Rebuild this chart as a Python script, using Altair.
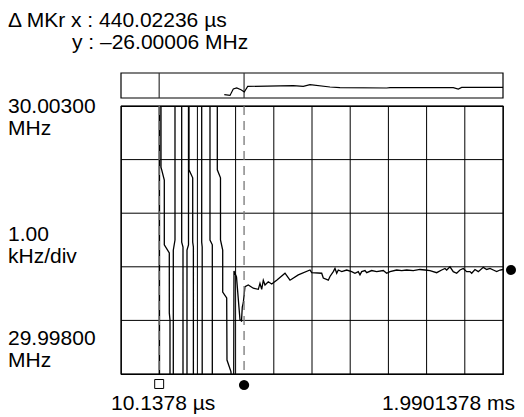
import altair as alt
import pandas as pd

FONT = "Liberation Sans"

# ---- axis spans -------------------------------------------------------
T_START = 10.1378      # µs
T_STOP = 1990.1378     # µs
F_BOTTOM = 29.998      # MHz
F_TOP = 30.003         # MHz

x_grid = [10.1378, 208.1378, 406.1378, 604.1378, 802.1378, 1000.1378,
          1198.1378, 1396.1378, 1594.1378, 1792.1378, 1990.1378]
y_grid = [29.998, 29.999, 30.000, 30.001, 30.002, 30.003]

ABOVE = 30.0045   # trace leaves the screen upward
BELOW = 29.9965   # trace leaves the screen downward

# ---- main trace (time µs, frequency MHz) --------------------------------
trace_t = [
    209.7, 209.7,
    264.1, 264.1, 260.5, 260.5, 234.6, 234.6, 217.5, 217.5,
    290.0, 290.0, 281.2, 281.2,
    331.5, 331.5, 324.7, 324.7,
    362.6, 362.6, 381.8, 381.8, 385.3, 385.3,
    352.2, 352.2, 360.0, 360.0,
    428.4, 428.4, 431.0, 431.0,
    483.4, 483.4, 471.4, 471.4,
    509.3, 509.3, 525.8, 525.8, 537.3, 537.3, 558.0, 559.5, 580.3, 580.3,
    593.2, 595.8, 608.8, 626.9, 634.7, 638.8, 644.0, 652.8, 669.9, 695.8,
    721.8, 730.5, 739.4, 747.7, 756.5, 773.6, 791.2, 817.1, 860.2, 886.1,
    929.1, 989.7, 998.6, 1050.4, 1058.7, 1084.6, 1093.4, 1110.5, 1119.3, 1128.1,
    1136.4, 1154.1, 1180.0, 1205.8, 1222.9, 1240.0, 1248.8, 1257.7, 1274.8, 1283.6,
    1309.5, 1335.4, 1369.6, 1387.2, 1404.4, 1439.1, 1465.0, 1490.9, 1525.1, 1559.8,
    1585.8, 1611.7, 1646.4, 1672.3, 1689.4, 1698.2, 1715.3, 1732.4, 1750.0, 1767.2,
    1784.3, 1801.9, 1819.0, 1827.8, 1844.9, 1862.1, 1888.0, 1905.6, 1922.7, 1939.8,
    1957.4, 1974.4, 1990.1,
]
trace_f = [
    ABOVE, BELOW,
    BELOW, 29.99901, 29.99914, 30.00026, 30.00041, 30.00162, 30.00186, ABOVE,
    ABOVE, 30.00050, 30.00031, BELOW,
    BELOW, 30.00037, 30.00046, ABOVE,
    ABOVE, 30.00181, 30.00166, 30.00046, 30.00037, BELOW,
    BELOW, 30.00031, 30.00041, ABOVE,
    ABOVE, 30.00046, 30.00037, BELOW,
    BELOW, 30.00041, 30.00050, ABOVE,
    ABOVE, 30.00181, 30.00166, 30.00050, 30.00031, 29.99953, 29.99942, 29.99826, 29.99804, BELOW,
    BELOW, 29.99992, 29.99981, 29.99901, 29.99899, 29.99925, 29.99933, 29.99963, 29.99966, 29.99960,
    29.99958, 29.99969, 29.99958, 29.99975, 29.99966, 29.99972, 29.99968, 29.99975, 29.99988, 29.99975,
    29.99985, 29.99994, 29.99989, 29.99988, 29.99979, 29.99975, 29.99982, 29.99991, 29.99997, 29.99988,
    29.99994, 29.99991, 29.99994, 29.99991, 29.99988, 29.99991, 29.99985, 29.99991, 29.99993, 29.99989,
    29.99993, 29.99991, 29.99993, 29.99988, 29.99991, 29.99994, 29.99993, 29.99994, 29.99993, 29.99995,
    29.99994, 29.99993, 29.99989, 29.99994, 29.99997, 29.99994, 30.00000, 29.99991, 29.99988, 29.99994,
    29.99997, 29.99991, 29.99991, 29.99988, 29.99995, 29.99991, 29.99999, 29.99995, 29.99997, 29.99994,
    29.99991, 29.99994, 29.99995,
]

# ---- overview strip trace (time µs, offset kHz) -----------------------------
STRIP_LO, STRIP_HI = -42, 58
strip_t = [545.5, 575.1, 592.2, 609.8, 632.1, 649.2, 666.8, 903.2, 955.0, 989.7,
           1093.4, 1145.2, 1387.2, 1404.4, 1732.4, 1758.3, 1775.9, 1990.1]
strip_v = [-28.8, -31.6, -6.0, -2.0, -8.8, -18.0, 4.4, 7.2, 4.4, 11.2,
           2.0, -0.8, -2.0, -0.8, -0.8, -6.0, 0.4, 0.4]

# ---- markers ----------------------------------------------------------------
marker_ref_t = 208.0
marker_delta_t = 648.02
marker_level_f = 29.99994

# ---- texts ------------------------------------------------------------------
header_lines = ["\u0394 MKr x : 440.02236 \u00b5s", "y : \u201326.00006 MHz"]
y_label_top = ["30.00300", "1.00", "29.99800"]
y_label_bottom = ["MHz", "kHz/div", "MHz"]
x_labels = ["10.1378 \u00b5s", "1.9901378 ms"]

W, H = 382, 268

xs = alt.Scale(domain=[T_START, T_STOP], nice=False, zero=False)
ys = alt.Scale(domain=[F_BOTTOM, F_TOP], nice=False, zero=False)
ss = alt.Scale(domain=[STRIP_LO, STRIP_HI], range=[-8, -33], nice=False, zero=False)

trace_df = pd.DataFrame({"t": trace_t, "f": trace_f, "i": list(range(len(trace_t)))})
strip_df = pd.DataFrame({"t": strip_t, "v": strip_v, "i": list(range(len(strip_t)))})
mk_df = pd.DataFrame({"t": [marker_ref_t, marker_delta_t],
                      "lo": [STRIP_LO, STRIP_LO], "hi": [STRIP_HI, STRIP_HI]})

vgrid = alt.Chart(pd.DataFrame({"t": x_grid})).mark_rule(color="black", strokeWidth=1).encode(
    x=alt.X("t:Q", scale=xs, axis=None))
hgrid = alt.Chart(pd.DataFrame({"f": y_grid})).mark_rule(color="black", strokeWidth=1).encode(
    y=alt.Y("f:Q", scale=ys, axis=None))

trace = alt.Chart(trace_df).mark_line(color="black", strokeWidth=1.3, clip=True).encode(
    x=alt.X("t:Q", scale=xs, axis=None),
    y=alt.Y("f:Q", scale=ys, axis=None),
    order=alt.Order("i:Q"),
)

dashed = alt.Chart(mk_df).mark_rule(color="#777777", strokeDash=[9, 6], strokeWidth=1.3).encode(
    x=alt.X("t:Q", scale=xs, axis=None),
)

sq = alt.Chart(pd.DataFrame({"t": [marker_ref_t]})).mark_point(
    shape="square", filled=False, color="black", size=80, strokeWidth=1, opacity=1
).encode(x=alt.X("t:Q", scale=xs, axis=None), y=alt.value(278))

dot = alt.Chart(pd.DataFrame({"t": [marker_delta_t]})).mark_point(
    shape="circle", filled=True, color="black", size=105, opacity=1
).encode(x=alt.X("t:Q", scale=xs, axis=None), y=alt.value(279))

rdot = alt.Chart(pd.DataFrame({"f": [marker_level_f]})).mark_point(
    shape="circle", filled=True, color="black", size=100, opacity=1
).encode(x=alt.value(W + 8), y=alt.Y("f:Q", scale=ys, axis=None))


def text_layer(s, x, y, size, align="left"):
    return alt.Chart(pd.DataFrame({"s": [s]})).mark_text(
        align=align, baseline="alphabetic", font=FONT, fontSize=size, color="black",
    ).encode(x=alt.value(x), y=alt.value(y), text="s:N")


FS = 21
texts = [
    text_layer(header_lines[0], -113, -79, FS),
    text_layer(header_lines[1], -49, -57, FS),
    text_layer(y_label_top[0], -113, 7, FS),
    text_layer(y_label_bottom[0], -113, 29, FS),
    text_layer(y_label_top[1], -113, 135, FS),
    text_layer(y_label_bottom[1], -113, 157, FS),
    text_layer(y_label_top[2], -113, 239, FS),
    text_layer(y_label_bottom[2], -113, 261, FS),
    text_layer(x_labels[0], -10, 304, FS),
    text_layer(x_labels[1], W + 12, 304, FS, align="right"),
]

main = alt.layer(vgrid, hgrid, trace, dashed, sq, dot, rdot, *texts)

frame = alt.Chart(pd.DataFrame({"t": [T_START], "t2": [T_STOP],
                                "v": [STRIP_LO], "v2": [STRIP_HI]})).mark_rect(
    fill="white", stroke="black", strokeWidth=1.2
).encode(x=alt.X("t:Q", scale=xs, axis=None), x2="t2:Q",
         y=alt.Y("v:Q", scale=ss, axis=None), y2="v2:Q")

strip_rules = alt.Chart(mk_df).mark_rule(color="#333333", strokeWidth=1.2).encode(
    x=alt.X("t:Q", scale=xs, axis=None),
    y=alt.Y("lo:Q", scale=ss, axis=None), y2="hi:Q",
)

strip_line = alt.Chart(strip_df).mark_line(color="black", strokeWidth=1.2).encode(
    x=alt.X("t:Q", scale=xs, axis=None),
    y=alt.Y("v:Q", scale=ss, axis=None),
    order=alt.Order("i:Q"),
)

strip = alt.layer(frame, strip_rules, strip_line)

chart = alt.layer(main, strip).resolve_scale(y="independent").properties(
    width=W, height=H,
    autosize=alt.AutoSizeParams(type="none"),
    padding={"left": 113, "top": 98, "right": 13, "bottom": 40},
).configure_view(stroke="black", strokeWidth=1.2)

chart.save("out.html", embed_options={"renderer": "svg", "actions": False})
